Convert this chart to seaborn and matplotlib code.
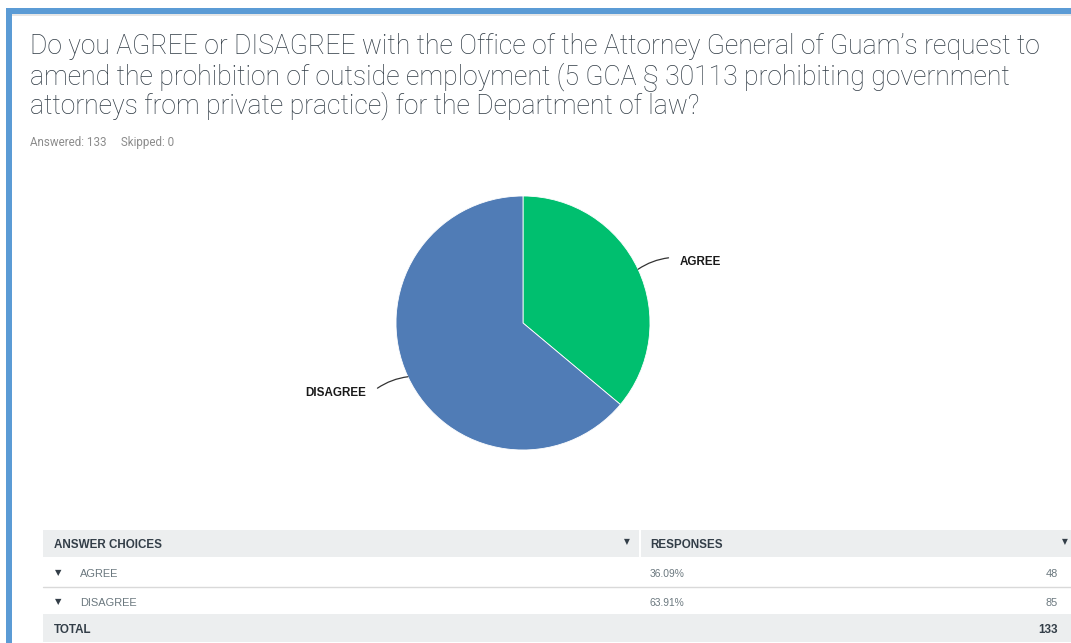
import numpy as np
import pandas as pd
import seaborn as sns
import matplotlib.pyplot as plt

# survey data
choices = ['AGREE', 'DISAGREE']
counts = [48, 85]
percents = ['36.09%', '63.91%']
total = 133
skipped = 0
colors = ['#00bf6f', '#507cb6']

title_lines = [
    "Do you AGREE or DISAGREE with the Office of the Attorney General of Guam\u2019s request to",
    "amend the prohibition of outside employment (5 GCA \u00a7 30113 prohibiting government",
    "attorneys from private practice) for the Department of law?",
]

sns.set_theme(style='white')
plt.rcParams['font.family'] = ['Roboto', 'DejaVu Sans']
tfont = ['Liberation Sans', 'DejaVu Sans']

W, H = 1071, 643
fig = plt.figure(figsize=(W / 100, H / 100), dpi=100)

# background axes in pixel coords
bg = fig.add_axes([0, 0, 1, 1])
bg.set_xlim(0, W)
bg.set_ylim(H, 0)
bg.axis('off')

# page frame
bg.fill_between([6, W], 8, 14, color='#5b9bd5', lw=0)
bg.fill_between([6, 12], 8, H, color='#5b9bd5', lw=0)
bg.fill_between([12, W], 14, 16, color='#e6e6e6', lw=0)

for i, line in enumerate(title_lines):
    bg.text(30, 54 + 30 * i, line, fontsize=19.1, color='#2f3a44', va='baseline',
            fontweight='light')
bg.text(30, 146, f'Answered: {total}     Skipped: {skipped}', fontsize=8.4, color='#8c8c8c',
        va='baseline')

# table
gray = '#eceeef'
bg.fill_between([43, W], 530, 557, color=gray, lw=0)
bg.plot([639.5, 639.5], [530, 557], color='white', lw=1.5)
bg.fill_between([43, W], 614, 642, color=gray, lw=0)
bg.plot([43, W], [587, 587], color='#d9d9d9', lw=1)
bg.text(54, 548, 'ANSWER CHOICES', fontsize=8.4, fontweight='bold', color='#333e48',
        va='baseline', family=tfont)
bg.text(650, 548, 'RESPONSES', fontsize=8.4, fontweight='bold', color='#333e48',
        va='baseline', family=tfont)
for x in [627, 1065]:
    bg.text(x, 542, '\u25bc', fontsize=5.5, color='#333e48', va='center', ha='center',
            family='DejaVu Sans')
rows_y = [577, 606]
for yy, c, p, n in zip(rows_y, choices, percents, counts):
    bg.text(58, yy - 4, '\u25bc', fontsize=6, color='#333e48', va='center', ha='center',
            family='DejaVu Sans')
    bg.text(80, yy, c, fontsize=7.9, color='#6b787f', va='baseline', family=tfont)
    bg.text(650, yy, p, fontsize=7.4, color='#6b787f', va='baseline', family=tfont)
    bg.text(1058, yy, str(n), fontsize=7.9, color='#6b787f', va='baseline', ha='right',
            family=tfont)
bg.text(54, 633, 'TOTAL', fontsize=8.4, fontweight='bold', color='#333e48', va='baseline',
        family=tfont)
bg.text(1058, 633, str(total), fontsize=8.4, fontweight='bold', color='#333e48',
        va='baseline', ha='right', family=tfont)

# pie
cx, cy, r = 523, 323, 127
half = 200
ax = fig.add_axes([(cx - half) / W, 1 - (cy + half) / H, 2 * half / W, 2 * half / H])
wedges, _ = ax.pie(counts, colors=colors, startangle=90, counterclock=False,
                   radius=1, wedgeprops=dict(edgecolor='white', linewidth=0.6))
lim = half / r
ax.set_xlim(-lim, lim)
ax.set_ylim(-lim, lim)
ax.set_aspect('equal')
ax.axis('off')

for w, c in zip(wedges, choices):
    ang = np.deg2rad((w.theta1 + w.theta2) / 2)
    x0, y0 = np.cos(ang), np.sin(ang)
    sgn = 1 if x0 > 0 else -1
    x1, y1 = x0 + sgn * 0.24, y0 + 0.09 * np.sign(y0)
    ax.annotate('', xy=(x0, y0), xytext=(x1, y1),
                arrowprops=dict(arrowstyle='-', color='#333333', lw=0.9,
                                shrinkA=0, shrinkB=0,
                                connectionstyle='arc3,rad=%s' % (0.12 * sgn)))
    ax.text(x1 + sgn * 0.09, y1 - 0.025, c, ha='left' if sgn > 0 else 'right',
            va='center_baseline', fontsize=8.4, fontweight='bold', color='#1a1a1a',
            family=tfont)

fig.savefig('out.png', dpi=100)
